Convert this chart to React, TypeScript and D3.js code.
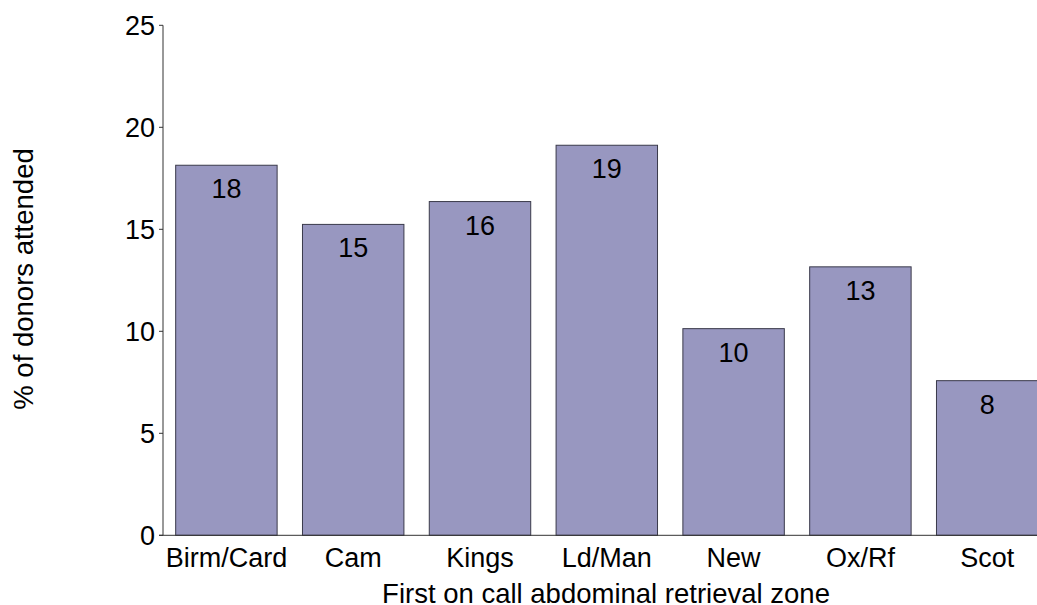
import React from "react";
import * as d3 from "d3";

const categories = ["Birm/Card", "Cam", "Kings", "Ld/Man", "New", "Ox/Rf", "Scot"];
const values = [18.14, 15.24, 16.36, 19.12, 10.13, 13.16, 7.58];
const labels = ["18", "15", "16", "19", "10", "13", "8"];
const yTicks = [0, 5, 10, 15, 20, 25];

const W = 1037;
const H = 605;
const FONT = "Liberation Sans, Arial, Helvetica, sans-serif";

export default function App() {
  const x0 = 163;
  const step = 126.8;
  const x = d3
    .scaleBand<string>()
    .domain(categories)
    .range([x0, x0 + step * categories.length])
    .paddingInner(0.2)
    .paddingOuter(0.1);
  const y = d3.scaleLinear().domain([0, 25]).range([535.3, 25.3]);

  return (
    <svg
      width={W}
      height={H}
      style={{ position: "absolute", left: 0, top: 0, background: "#fff" }}
      fontFamily={FONT}
    >
      {categories.map((c, i) => (
        <g key={c}>
          <rect
            x={x(c)!}
            y={y(values[i])}
            width={x.bandwidth()}
            height={y(0) - y(values[i])}
            fill="#9897c0"
            stroke="#3a3a4a"
            strokeWidth={1}
          />
          <text
            x={x(c)! + x.bandwidth() / 2}
            y={y(values[i]) + 33}
            textAnchor="middle"
            fontSize={27}
            fill="#000"
          >
            {labels[i]}
          </text>
          <text
            x={x(c)! + x.bandwidth() / 2}
            y={567}
            textAnchor="middle"
            fontSize={27}
            fill="#000"
          >
            {c}
          </text>
        </g>
      ))}
      <line x1={x0} x2={x0} y1={y(25)} y2={y(0)} stroke="#333" strokeWidth={1} />
      <line x1={x0 - 4} x2={W} y1={y(0)} y2={y(0)} stroke="#333" strokeWidth={1} />
      {yTicks.map((t) => (
        <g key={t}>
          <line x1={x0 - 4} x2={x0} y1={y(t)} y2={y(t)} stroke="#333" strokeWidth={1} />
          <text x={x0 - 8} y={y(t)} dy="0.36em" textAnchor="end" fontSize={27} fill="#000">
            {t}
          </text>
        </g>
      ))}
      <text
        transform={`translate(33,${279}) rotate(-90)`}
        textAnchor="middle"
        fontSize={27.5}
        fill="#000"
      >
        % of donors attended
      </text>
      <text x={606} y={603} textAnchor="middle" fontSize={27.5} fill="#000">
        First on call abdominal retrieval zone
      </text>
    </svg>
  );
}
